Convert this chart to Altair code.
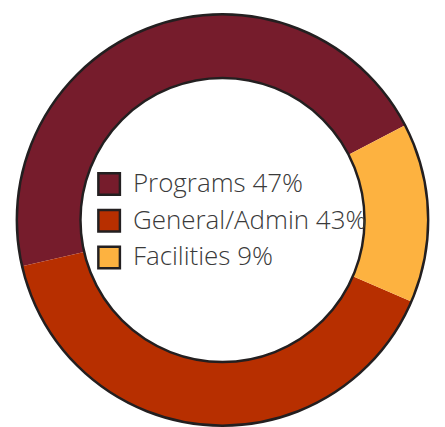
import math
import altair as alt
import pandas as pd

categories = ["Programs", "General/Admin", "Facilities"]
label_pct = [47, 43, 9]
arc_share = [46.0, 39.9, 14.1]      # slice sizes as drawn in the picture
slice_order = [0, 2, 1]             # clockwise drawing order
colors = ["#761C2C", "#B72F00", "#FDB240"]

labels = [f"{c} {p}%" for c, p in zip(categories, label_pct)]
df = pd.DataFrame({"label": labels, "share": arc_share, "ord": slice_order})

W, H = 438, 424
start = math.radians(257)
R_OUT, R_IN = 210, 145

slices = alt.Chart(df).mark_arc(radius=R_OUT, radius2=R_IN).encode(
    theta=alt.Theta("share:Q", stack=True,
                    scale=alt.Scale(range=[start, start + 2 * math.pi])),
    order=alt.Order("ord:Q"),
    color=alt.Color(
        "label:N",
        scale=alt.Scale(domain=labels, range=colors),
        legend=alt.Legend(
            title=None, orient="none", legendX=90, legendY=162,
            symbolType="square", symbolSize=484,
            symbolStrokeColor="#231F20", symbolStrokeWidth=2.5,
            symbolOpacity=1,
            labelFont="Open Sans", labelFontSize=26.5, labelFontWeight=300,
            labelColor="#3A3A3A",
            labelOffset=11, rowPadding=4.5, padding=0, labelLimit=400,
        ),
    ),
)

outline = alt.Chart(pd.DataFrame({"a": [1]})).mark_arc(
    radius=R_OUT, radius2=R_IN, theta=0, theta2=2 * math.pi,
    fillOpacity=0, stroke="#231F20", strokeWidth=2.5,
).encode(x=alt.value(W / 2), y=alt.value(H / 2))

chart = alt.layer(slices, outline).properties(
    width=W, height=H, autosize="none", padding=0
).configure_view(strokeWidth=0)

chart.save("out.html", embed_options={"renderer": "svg", "actions": False})
